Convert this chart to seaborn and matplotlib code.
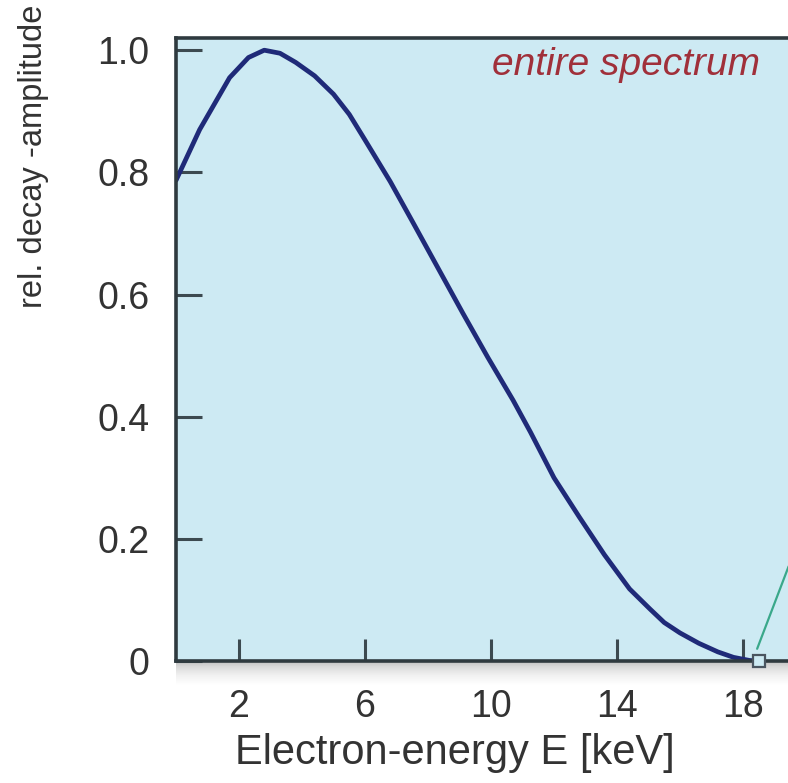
import numpy as np
import pandas as pd
import matplotlib
matplotlib.use("Agg")
import matplotlib.pyplot as plt
import seaborn as sns

# values
energy_kev = [0.0, 0.75, 1.7, 2.3, 2.8, 3.3, 3.8, 4.4, 5.0, 5.5, 6.0, 6.8, 7.5, 8.3, 9.1,
              9.9, 10.7, 11.25, 12.0, 12.8, 13.6, 14.4, 15.05, 15.5, 16.0, 16.6, 17.2, 17.7, 18.2, 18.45]
amplitude = [0.787, 0.87, 0.955, 0.988, 1.0, 0.995, 0.98, 0.958, 0.928, 0.895, 0.853, 0.785, 0.72, 0.645, 0.57,
             0.497, 0.427, 0.375, 0.30, 0.236, 0.174, 0.118, 0.085, 0.063, 0.046, 0.029, 0.015, 0.006, 0.001, 0.0]
endpoint = [18.5]
zoom_line_x = [18.45, 19.45]
zoom_line_y = [0.02, 0.155]
x_ticks = [2, 6, 10, 14, 18]
y_ticks = [0, 0.2, 0.4, 0.6, 0.8, 1.0]
y_tick_labels = ["0", "0.2", "0.4", "0.6", "0.8", "1.0"]

df = pd.DataFrame({"E": energy_kev, "amp": amplitude})

sns.set_style("white")
plt.rcParams["font.family"] = ["Liberation Sans", "DejaVu Sans"]

fig = plt.figure(figsize=(7.88, 7.83), dpi=100)

# soft shadow under the bottom axis line
shadow = fig.add_axes([0.2234, 0.1558 - 24 / 783, 0.7766, 24 / 783], zorder=0)
grad = np.linspace(0, 1, 60) ** 0.7
grad = grad.reshape(-1, 1)
shadow.imshow(grad, aspect="auto", cmap="Greys_r", vmin=-1.4, vmax=1.0, extent=[0, 1, 0, 1])
shadow.axis("off")

ax = fig.add_axes([0.2234, 0.1558, 0.7766, 0.7957], zorder=1)
ax.set_facecolor("#cdeaf3")

sns.lineplot(data=df, x="E", y="amp", ax=ax, color="#1f2a78", linewidth=3.4, sort=False)
ax.plot(zoom_line_x, zoom_line_y, color="#3aa88a", linewidth=1.6, clip_on=True)
ax.plot(endpoint, [0.0], marker="s", markersize=8, markerfacecolor="#cdeaf3",
        markeredgecolor="#4a5560", markeredgewidth=1.6, clip_on=False, zorder=5)

ax.set_xlim(0, 19.43)
ax.set_ylim(0, 1.02)
ax.set_xticks(x_ticks)
ax.set_yticks(y_ticks)
ax.set_yticklabels(y_tick_labels)
ax.tick_params(axis="both", bottom=True, left=True, direction="in", width=2.2,
               color="#3c4a50", labelsize=27, labelcolor="#333333")
ax.tick_params(axis="x", length=16, pad=20)
ax.tick_params(axis="y", length=19, pad=19)

for side in ["left", "top", "bottom"]:
    ax.spines[side].set_color("#2f3a3f")
    ax.spines[side].set_linewidth(2.6)
ax.spines["right"].set_visible(False)

ax.set_xlabel("")
ax.set_ylabel("")
fig.text(0.577, 0.038, "Electron-energy E [keV]", fontsize=30, color="#333333",
         ha="center", va="center")
fig.text(0.043, 1 - 156 / 783, "rel. decay -amplitude", fontsize=23.5, color="#333333",
         ha="center", va="center", rotation=90)

ax.text(0.955, 0.985, "entire spectrum", transform=ax.transAxes, ha="right", va="top",
        fontsize=28, style="italic", color="#a0303a")

fig.savefig("out.png", dpi=100)
